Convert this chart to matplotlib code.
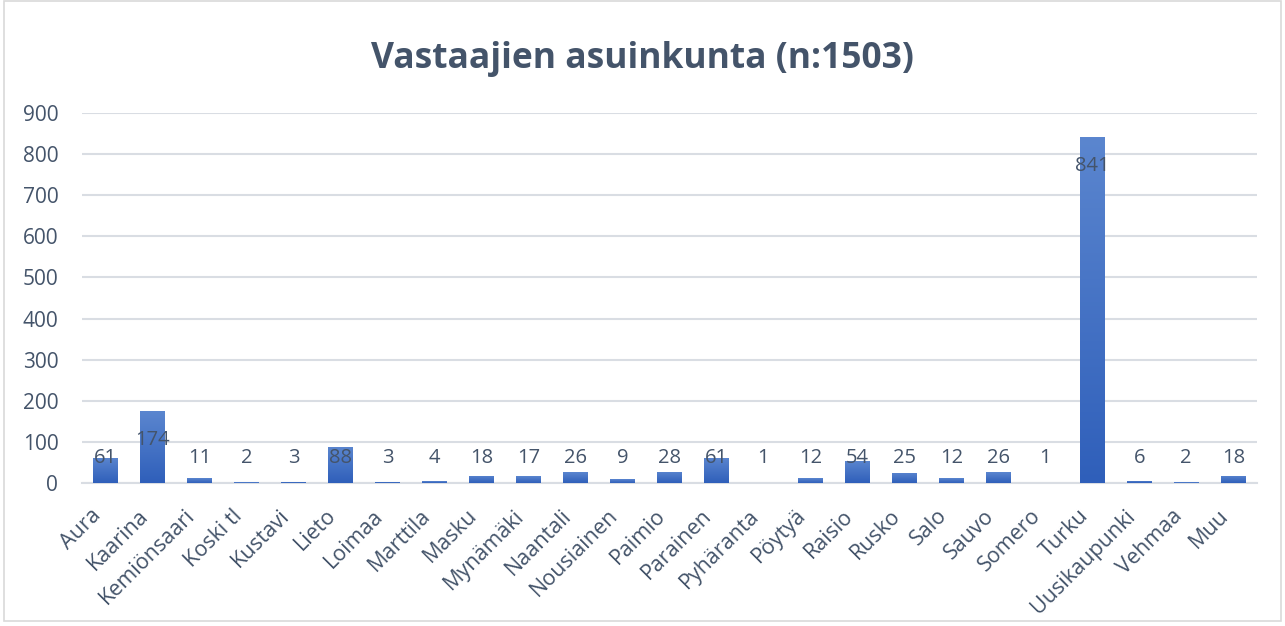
import matplotlib.pyplot as plt
import matplotlib.patches as mpatches
import matplotlib.transforms as mtransforms
import numpy as np

kunnat = ['Aura', 'Kaarina', 'Kemiönsaari', 'Koski tl', 'Kustavi', 'Lieto', 'Loimaa',
          'Marttila', 'Masku', 'Mynämäki', 'Naantali', 'Nousiainen', 'Paimio', 'Parainen',
          'Pyhäranta', 'Pöytyä', 'Raisio', 'Rusko', 'Salo', 'Sauvo', 'Somero', 'Turku',
          'Uusikaupunki', 'Vehmaa', 'Muu']
vastaajat = [61, 174, 11, 2, 3, 88, 3, 4, 18, 17, 26, 9, 28, 61, 1, 12, 54, 25, 12, 26, 1,
             841, 6, 2, 18]
y_ticks = [0, 100, 200, 300, 400, 500, 600, 700, 800, 900]

text_color = '#44546A'
plt.rcParams['font.family'] = ['Open Sans', 'DejaVu Sans']

fig = plt.figure(figsize=(12.85, 6.26), dpi=100)
ax = fig.add_axes([0.0638, 0.2284, 0.9142, 0.5911])

x = np.arange(len(kunnat))
bars = ax.bar(x, vastaajat, width=0.52, color='none', zorder=3)

# liukuväri palkkeihin (tumma alhaalla, vaalea ylhäällä)
grad = np.linspace(0, 1, 256).reshape(-1, 1)
cmap = plt.matplotlib.colors.LinearSegmentedColormap.from_list('g', ['#2F5FBA', '#5B86CF'])
for b in bars:
    x0, w, h = b.get_x(), b.get_width(), b.get_height()
    if h <= 0:
        continue
    im = ax.imshow(grad, extent=[x0, x0 + w, 0, h], origin='lower', aspect='auto',
                   cmap=cmap, zorder=3)
    im.set_clip_path(b)

# arvot palkin yläpäähän, lyhyillä palkeilla vähimmäiskorkeus
for xi, v in zip(x, vastaajat):
    ax.text(xi, max(v - 69, 61), str(v), ha='center', va='center', fontsize=14.5,
            color=text_color, zorder=4)

ax.set_xlim(-0.5, len(kunnat) - 0.5)
ax.set_ylim(0, 900)
ax.set_yticks(y_ticks)
ax.set_xticks(x)
ax.set_xticklabels(kunnat, rotation=45, ha='right', va='top')
shift = mtransforms.ScaledTranslation(5 / 100, 0, fig.dpi_scale_trans)
for lbl in ax.get_xticklabels():
    lbl.set_transform(lbl.get_transform() + shift)
ax.tick_params(length=0, colors=text_color)
ax.tick_params(axis='x', pad=16, labelsize=15.5)
ax.tick_params(axis='y', pad=17, labelsize=15)
ax.grid(axis='y', color='#D9DDE3', linewidth=1.5, zorder=0)
for s in ['top', 'right', 'left']:
    ax.spines[s].set_visible(False)
ax.spines['bottom'].set_color('#D9DDE3')
ax.spines['bottom'].set_linewidth(1.5)

fig.text(0.5, 0.905, 'Vastaajien asuinkunta (n:1503)', ha='center', va='center',
         fontsize=25.5, fontweight='bold', color=text_color)

fig.patches.append(mpatches.Rectangle((0.003, 0.008), 0.994, 0.99, transform=fig.transFigure,
                                      fill=False, edgecolor='#D9D9D9', linewidth=1.2))

plt.savefig('out.png', dpi=100)
